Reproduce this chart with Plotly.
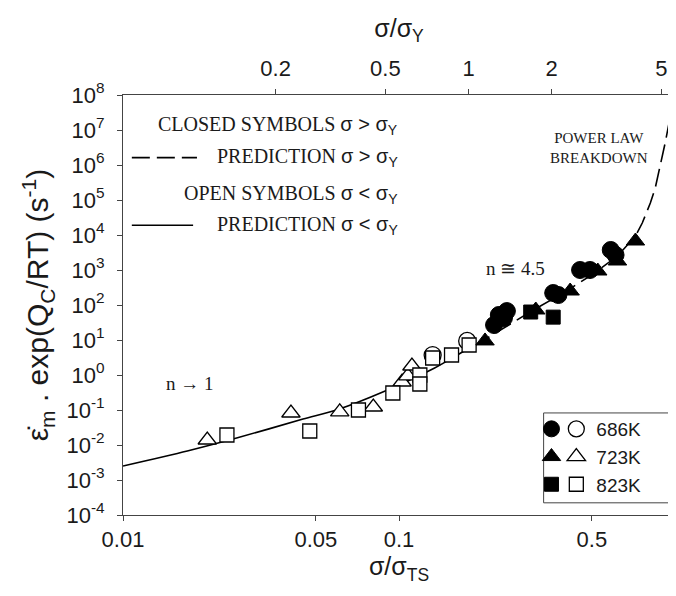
import math
import plotly.graph_objects as go

# ---------------- data ----------------
# ratio sigma_TS / sigma_Y linking bottom and top axes
TS_OVER_Y = 5.6

# 686 K
c686_x = [0.221, 0.230, 0.240, 0.246, 0.362, 0.378, 0.453, 0.492, 0.585, 0.609]
c686_y = [26.8, 51.8, 42.5, 67.0, 220, 193, 1000, 1000, 3730, 2680]
o686_x = [0.1324, 0.1766]
o686_y = [3.7, 9.4]

# 723 K
c723_x = [0.205, 0.313, 0.417, 0.525, 0.619, 0.719]
c723_y = [9.4, 72, 251, 936, 1808, 6740]
o723_x = [0.0202, 0.0406, 0.0610, 0.0807, 0.1026, 0.1076, 0.1114]
o723_y = [0.0139, 0.082, 0.088, 0.122, 0.63, 0.94, 1.81]

# 823 K
c823_x = [0.300, 0.362]
c823_y = [63, 45]
o823_x = [0.0238, 0.0475, 0.0713, 0.095, 0.119, 0.119, 0.1324, 0.155, 0.1795]
o823_y = [0.0193, 0.0251, 0.10, 0.306, 1.0, 0.553, 3.06, 3.73, 7.2]

# prediction curves
pred_low_x = [0.01, 0.0171, 0.0258, 0.0449, 0.0604, 0.0891, 0.1346, 0.1726, 0.187]
pred_low_y = [0.00251, 0.00674, 0.0158, 0.055, 0.105, 0.349, 1.585, 4.85, 6.7]
pred_high_x = [0.187, 0.240, 0.307, 0.394, 0.505, 0.619, 0.719, 0.761, 0.814, 0.848,
               0.876, 0.897, 0.921, 0.944, 0.960, 0.975, 0.9918, 0.996]
pred_high_y = [6.7, 22, 72, 220, 769, 2512, 9360, 22000, 82000, 2.2e5,
               6.7e5, 1.58e6, 4.25e6, 1.14e7, 2.2e7, 4.25e7, 8.2e7, 1.07e8]

# ticks
x_ticks = [0.01, 0.05, 0.1, 0.5, 1]
x_ticktext = ["0.01", "0.05", "0.1", "0.5", "1"]
x2_ticks = [0.2, 0.5, 1, 2, 5]
x2_ticktext = ["0.2", "0.5", "1", "2", "5"]
y_exps = list(range(-4, 9))

# ---------------- figure ----------------
SANS = "Liberation Sans, Arial, sans-serif"
SERIF = "Liberation Serif, Times New Roman, serif"
INK = "#1a1a1a"

fig = go.Figure()

fig.add_trace(go.Scatter(x=pred_low_x, y=pred_low_y, mode="lines",
                         line=dict(color="black", width=1.6, shape="spline", smoothing=0.8),
                         showlegend=False, hoverinfo="skip"))
fig.add_trace(go.Scatter(x=pred_high_x, y=pred_high_y, mode="lines",
                         line=dict(color="black", width=1.6, dash="18px,7px", shape="linear"),
                         showlegend=False, hoverinfo="skip"))

groups = [
    ("686K", "circle", 17, c686_x, c686_y, o686_x, o686_y),
    ("723K", "triangle-up", 16, c723_x, c723_y, o723_x, o723_y),
    ("823K", "square", 14, c823_x, c823_y, o823_x, o823_y),
]

for name, sym, size, cx, cy, ox, oy in groups:
    fig.add_trace(go.Scatter(x=ox, y=oy, mode="markers", name=name,
                             marker=dict(symbol=sym, size=size, color="white",
                                         line=dict(color="black", width=1.3)),
                             legend="legend2", legendgroup="o" + name))
for name, sym, size, cx, cy, ox, oy in groups:
    fig.add_trace(go.Scatter(x=cx, y=cy, mode="markers", name=" ",
                             marker=dict(symbol=sym, size=size, color="black",
                                         line=dict(color="black", width=1)),
                             legend="legend", legendgroup="c" + name))

# empty trace so the top axis exists
fig.add_trace(go.Scatter(x=[], y=[], xaxis="x2", showlegend=False, hoverinfo="skip"))

axis_common = dict(showline=True, linecolor="#444", linewidth=1, ticks="outside",
                   ticklen=5, tickcolor="#444", showgrid=False, zeroline=False,
                   tickfont=dict(family=SANS, size=22, color=INK))

fig.update_layout(
    width=676, height=596,
    margin=dict(l=115, r=3, t=87, b=89),
    paper_bgcolor="white", plot_bgcolor="white",
    xaxis=dict(type="log", range=[-2, 0], tickvals=x_ticks, ticktext=x_ticktext,
               mirror=True, ticklabelstandoff=0,
               title=dict(text="σ/σ<sub>TS</sub>", font=dict(family=SANS, size=25, color=INK),
                          standoff=6),
               **axis_common),
    xaxis2=dict(type="log", overlaying="x", side="top", anchor="y",
                range=[math.log10(0.01 * TS_OVER_Y), math.log10(1 * TS_OVER_Y)],
                tickvals=x2_ticks, ticktext=x2_ticktext, ticklabelstandoff=4,
                title=dict(text="σ/σ<sub>Y</sub>", font=dict(family=SANS, size=25, color=INK),
                           standoff=11),
                **axis_common),
    yaxis=dict(type="log", range=[-4, 8], tickvals=[10 ** e for e in y_exps],
               ticktext=["10<sup>%d</sup>" % e for e in y_exps], mirror="ticks",
               ticklabelstandoff=8,
               title=dict(text="ε̇<sub>m</sub> . exp(Q<sub>C</sub>/RT) (s<sup>-1</sup>)",
                          font=dict(family=SANS, size=30, color=INK), standoff=8),
               **axis_common),
    legend=dict(x=0.74, y=0.25, xanchor="left", yanchor="top",
                bgcolor="rgba(0,0,0,0)", borderwidth=0,
                font=dict(family=SANS, size=19, color=INK),
                traceorder="grouped", tracegroupgap=0, itemwidth=30),
    legend2=dict(x=0.785, y=0.25, xanchor="left", yanchor="top",
                 bgcolor="rgba(0,0,0,0)", borderwidth=0,
                 font=dict(family=SANS, size=19, color=INK),
                 traceorder="grouped", tracegroupgap=0, itemwidth=30),
    showlegend=True,
)

# legend box
fig.add_shape(type="rect", xref="paper", yref="paper", x0=0.762, x1=0.989, y0=0.029, y1=0.243,
              line=dict(color="#444", width=1), fillcolor="rgba(0,0,0,0)", layer="below")

# prediction key (top-left)
key_font = dict(family=SERIF, size=20, color=INK)
def key(text, ypaper):
    fig.add_annotation(xref="paper", yref="paper", x=0.502, y=ypaper, text=text,
                       showarrow=False, xanchor="right", yanchor="middle", font=key_font)

sig = '<span style="font-family:Liberation Sans">σ %s σ<sub>Y</sub></span>'
key("CLOSED SYMBOLS " + sig % "&gt;", 0.928)
key("PREDICTION " + sig % "&gt;", 0.851)
key("OPEN SYMBOLS " + sig % "&lt;", 0.764)
key("PREDICTION " + sig % "&lt;", 0.690)

fig.add_shape(type="line", xref="paper", yref="paper", x0=0.016, x1=0.134, y0=0.851, y1=0.851,
              line=dict(color="black", width=1.6, dash="18px,7px"))
fig.add_shape(type="line", xref="paper", yref="paper", x0=0.016, x1=0.127, y0=0.690, y1=0.690,
              line=dict(color="black", width=1.6))

text_font = dict(family=SERIF, size=19, color=INK)
fig.add_annotation(xref="paper", yref="paper", x=0.121, y=0.312, text="n → 1",
                   showarrow=False, xanchor="center", yanchor="middle", font=text_font)
fig.add_annotation(xref="paper", yref="paper", x=0.711, y=0.588, text="n ≅ 4.5",
                   showarrow=False, xanchor="center", yanchor="middle", font=text_font)
fig.add_annotation(xref="paper", yref="paper", x=0.862, y=0.874,
                   text="POWER LAW<br>BREAKDOWN", showarrow=False,
                   xanchor="center", yanchor="middle",
                   font=dict(family=SERIF, size=15, color=INK), align="center")

fig.write_html("out.html")
